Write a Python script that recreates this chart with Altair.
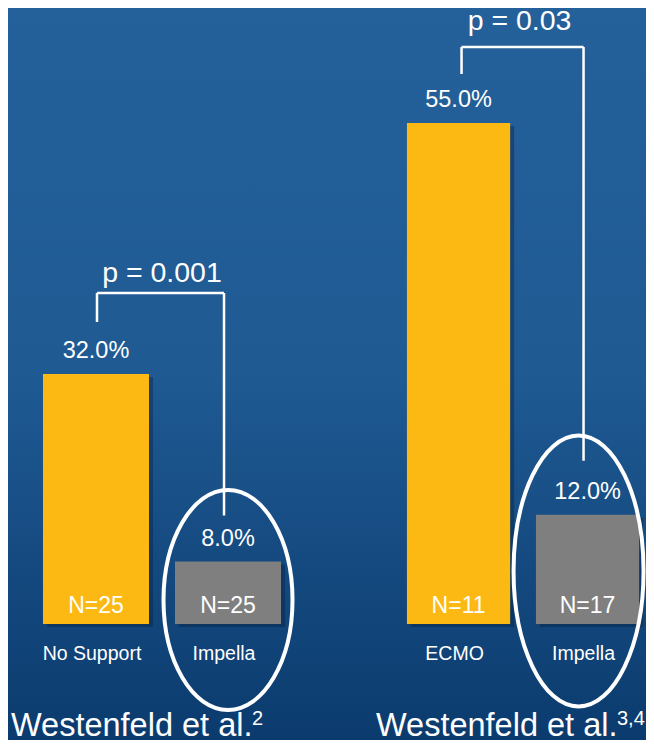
import altair as alt
import pandas as pd

# ---- data ----
left_cats = ["No Support", "Impella"]
left_vals = [32.0, 8.0]
left_n = [25, 25]
left_p = "p = 0.001"
left_ref = "Westenfeld et al."
left_sup = "2"

right_cats = ["ECMO", "Impella"]
right_vals = [55.0, 12.0]
right_n = [11, 17]
right_p = "p = 0.03"
right_ref = "Westenfeld et al."
right_sup = "3,4"

groups = ["Comparator", "Impella"]
group_colors = ["#FDB913", "#7F7F7F"]

# ---- layout ----
H = 732
BASE = 616
FONT = "Liberation Sans"
WHITE = "#FFFFFF"

bg_grad = alt.LinearGradient(
    gradient="linear",
    stops=[
        alt.GradientStop(color="#24609A", offset=0),
        alt.GradientStop(color="#1F5A93", offset=0.5),
        alt.GradientStop(color="#0B3B6E", offset=1),
    ],
    x1=0, x2=0, y1=0, y2=1,
)


def ellipse_path(ratio):
    r = ratio
    return f"M {-r} 0 A {r} 1 0 1 0 {r} 0 A {r} 1 0 1 0 {-r} 0 Z"


def panel(cats, vals, ns, ptext, ref, sup, W, px_per, pin, pout, align, o):
    df = pd.DataFrame({"cat": cats, "value": vals, "n": ns, "grp": groups})
    one = pd.DataFrame({"k": [0]})
    xs = alt.Scale(domain=cats, paddingInner=pin, paddingOuter=pout, align=align)
    ys = alt.Scale(domain=[-(H - BASE) / px_per, BASE / px_per], nice=False, zero=False)
    X = alt.X("cat:N", scale=xs, axis=None)
    Y = alt.Y("value:Q", scale=ys, axis=None)

    bg = alt.Chart(one).mark_rect(color=bg_grad).encode(
        x=alt.value(0), x2=alt.value(W), y=alt.value(0), y2=alt.value(H)
    )
    base = alt.Chart(df)
    shadow = base.mark_bar(color="#041a36", opacity=0.35, xOffset=4, x2Offset=4,
                           yOffset=3, y2Offset=3).encode(x=X, y=Y, y2=alt.datum(0))
    bars = base.mark_bar().encode(
        x=X, y=Y, y2=alt.datum(0),
        color=alt.Color("grp:N", scale=alt.Scale(domain=groups, range=group_colors), legend=None),
    )
    vlab = base.transform_calculate(lbl="format(datum.value, '.1f') + '%'").mark_text(
        dy=-16, baseline="alphabetic", fontSize=23.5, font=FONT, color=WHITE
    ).encode(x=X, y=Y, text="lbl:N")
    nlab = base.transform_calculate(nl="'N=' + datum.n").mark_text(
        dy=-11, baseline="alphabetic", fontSize=23, font=FONT, color=WHITE
    ).encode(x=X, y=alt.datum(0), text="nl:N")
    clab = base.mark_text(
        dy=36, dx=-4, baseline="alphabetic", fontSize=19.5, font=FONT, color=WHITE
    ).encode(x=X, y=alt.datum(0), text="cat:N")

    rule_kw = dict(color=WHITE, strokeWidth=2.5)
    leg_l = alt.Chart(one).mark_rule(xOffset=o["lx"], yOffset=o["leg"], y2Offset=o["top"], **rule_kw).encode(
        x=alt.datum(cats[0]), y=alt.datum(vals[0]), y2=alt.datum(vals[0]))
    horiz = alt.Chart(one).mark_rule(xOffset=o["lx"], x2Offset=o["rx"], yOffset=o["top"], **rule_kw).encode(
        x=alt.datum(cats[0]), x2=alt.datum(cats[1]), y=alt.datum(vals[0]))
    leg_r = alt.Chart(one).mark_rule(xOffset=o["rx"], yOffset=o["top"], y2Offset=o["rleg"], **rule_kw).encode(
        x=alt.datum(cats[1]), y=alt.datum(vals[0]), y2=alt.datum(vals[1]))
    ptxt = alt.Chart(one).mark_text(
        text=ptext, dx=o["pdx"], dy=o["pdy"], baseline="alphabetic", fontSize=28.5, font=FONT,
        color=WHITE, clip=True
    ).encode(x=alt.datum(cats[0]), y=alt.datum(vals[0]))
    ell = alt.Chart(one).mark_point(
        shape=ellipse_path(o["eratio"]), size=o["eh"] ** 2, filled=False, color=WHITE,
        strokeWidth=4, opacity=1, xOffset=o["ex"], yOffset=o["ey"], clip=True
    ).encode(x=alt.datum(cats[1]), y=alt.datum(0))
    reft = alt.Chart(one).mark_text(
        text=ref, align="left", baseline="alphabetic", fontSize=32.5, font=FONT, color=WHITE, clip=True
    ).encode(x=alt.value(o["refx"]), y=alt.value(H - 4))
    supt = alt.Chart(one).mark_text(
        text=sup, align="left", baseline="alphabetic", fontSize=20, font=FONT, color=WHITE, clip=True
    ).encode(x=alt.value(o["refx"] + o["supdx"]), y=alt.value(H - 15))

    return alt.layer(bg, shadow, bars, vlab, nlab, clab, leg_l, horiz, leg_r, ptxt, ell, reft, supt).properties(
        width=W, height=H
    )


left = panel(left_cats, left_vals, left_n, left_p, left_ref, left_sup,
             308, 250 / 32, 0.197, 0.265, 0.5,
             dict(lx=1, rx=-4, leg=-52, top=-81, rleg=-46, pdx=66, pdy=-92,
                  eratio=129 / 220, eh=220, ex=0, ey=-24, refx=3, supdx=241))
right = panel(right_cats, right_vals, right_n, right_p, right_ref, right_sup,
              330, 501 / 55, 0.2, 0.379, 0.93,
              dict(lx=3, rx=-4, leg=-49, top=-76, rleg=-54, pdx=61, pdy=-93,
                   eratio=130 / 271, eh=271, ex=-9, ey=-53, refx=60, supdx=241))

chart = alt.hconcat(left, right, spacing=0).resolve_scale(
    x="independent", y="independent", color="independent"
).properties(padding=0, background="#0B3B6E").configure_view(stroke=None)

chart.save("out.html", embed_options={"renderer": "svg", "actions": False})
